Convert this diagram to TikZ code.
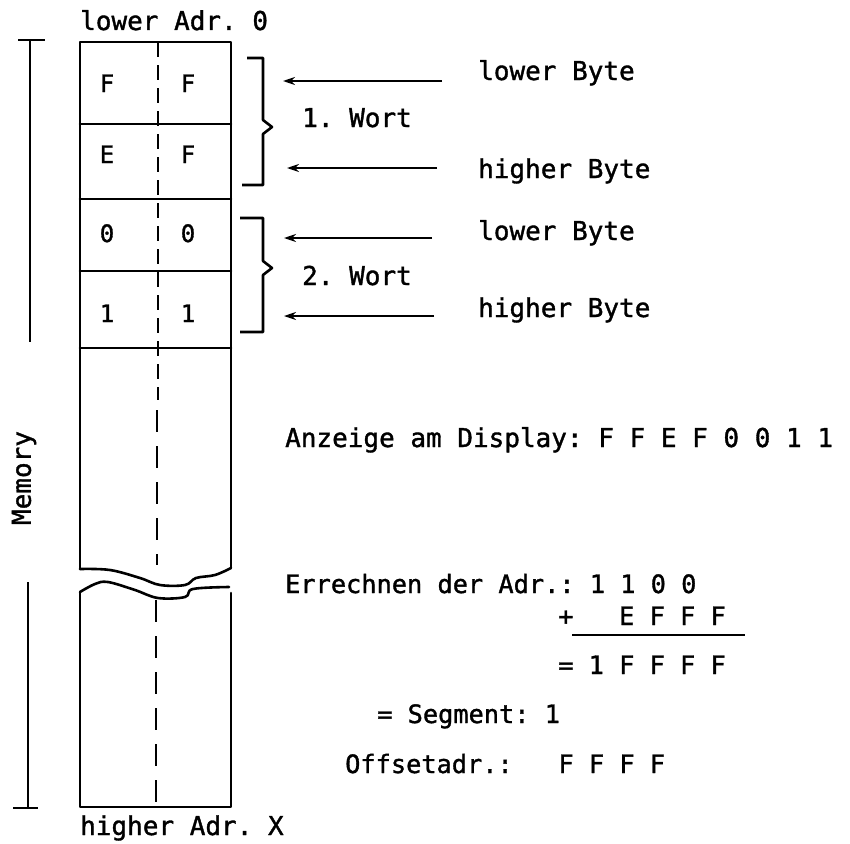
\documentclass[tikz,border=0pt]{standalone}
\usepackage{fontspec}
\newfontfamily\mono[FakeBold=1.3]{DejaVu Sans Mono}
\usetikzlibrary{arrows.meta}
\frenchspacing
\tikzset{
  lbl/.style={inner sep=0pt, anchor=base west, font=\mono\frenchspacing\fontsize{26}{28}\selectfont},
  calc/.style={inner sep=0pt, anchor=base west, font=\mono\frenchspacing\fontsize{25.3}{28}\selectfont},
  cell/.style={inner sep=0pt, anchor=base, font=\mono\fontsize{24}{26}\selectfont},
  boxline/.style={line width=2.6pt, line cap=round, line join=round},
  midline/.style={line width=2.6pt, dash pattern=on 15pt off 8pt},
  midline2/.style={line width=2.6pt, dash pattern=on 22pt off 14pt},
  arr/.style={line width=1.6pt, -{Stealth[length=12pt,width=8pt]}},
  brk/.style={line width=2.6pt, line join=round},
  bar/.style={line width=2.6pt}
}
\begin{document}
\begin{tikzpicture}[x=1pt,y=-1pt]
\useasboundingbox (0,0) rectangle (850,843);
% labels top/bottom
\node[lbl] (lowadr) at (80,30) {lower Adr. 0};
\node[lbl] (highadr) at (80,835) {higher Adr. X};
% memory bars
\draw[bar] (18,40) -- (45,40);
\draw[bar] (30,40) -- (30,342);
\draw[bar] (28,582) -- (28,808);
\draw[bar] (13,808) -- (38,808);
\node[inner sep=0pt, rotate=90, font=\mono\fontsize{26}{28}\selectfont] (mem) at (24,478) {Memory};
% upper box
\draw[boxline] (80,569) -- (80,42) -- (231,42) -- (231,568);
\draw[boxline] (80,124) -- (231,124);
\draw[boxline] (80,199) -- (231,199);
\draw[boxline] (80,271) -- (231,271);
\draw[boxline] (80,348) -- (231,348);
% break lines
\draw[boxline] plot[smooth, tension=0.6] coordinates {(80,569) (110,570) (140,578) (160,585) (185,585) (196,578) (215,575) (231,568)};
\draw[boxline] plot[smooth, tension=0.6] coordinates {(80,592) (95,584) (108,582) (135,590) (158,598) (185,597) (193,589) (229,587)};
% lower box
\draw[boxline] (80,592) -- (80,807) -- (231,807) -- (231,593);
% middle dashed line
\draw[midline] (158,42) -- (158,400);
\draw[midline2] (157,410) -- (157,565);
\draw[midline2] (156,600) -- (156,807);
% cells
\node[cell] (c1a) at (107,92) {F};
\node[cell] (c1b) at (188,92) {F};
\node[cell] (c2a) at (107,163) {E};
\node[cell] (c2b) at (188,163) {F};
\node[cell] (c3a) at (107,242) {0};
\node[cell] (c3b) at (188,242) {0};
\node[cell] (c4a) at (107,322) {1};
\node[cell] (c4b) at (188,322) {1};
% brackets
\draw[brk] (247,58) -- (263,58) -- (263,120) -- (272,127) -- (263,134) -- (263,185) -- (242,185);
\draw[brk] (240,218) -- (263,218) -- (263,261) -- (272,268) -- (263,275) -- (263,332) -- (240,332);
\node[lbl] (w1) at (302,127) {1. Wort};
\node[lbl] (w2) at (302,285) {2. Wort};
% arrows
\coordinate (a1s) at (442,81); \coordinate (a1e) at (283,81);
\coordinate (a2s) at (437,168); \coordinate (a2e) at (287,168);
\coordinate (a3s) at (432,238); \coordinate (a3e) at (284,238);
\coordinate (a4s) at (434,316); \coordinate (a4e) at (284,316);
\draw[arr] (a1s) -- (a1e);
\draw[arr] (a2s) -- (a2e);
\draw[arr] (a3s) -- (a3e);
\draw[arr] (a4s) -- (a4e);
\node[lbl] (lb1) at (478,80) {lower Byte};
\node[lbl] (hb1) at (478,178) {higher Byte};
\node[lbl] (lb2) at (478,240) {lower Byte};
\node[lbl] (hb2) at (478,317) {higher Byte};
% display
\node[lbl] (disp) at (285,447) {Anzeige am Display: F F E F 0 0 1 1};
% calculation
\node[calc] (er) at (285,593) {Errechnen der Adr.: 1 1 0 0};
\node[calc] (pl) at (558,625) {+~~~E F F F};
\coordinate (ls) at (572,635); \coordinate (le) at (745,635);
\draw[line width=1.4pt] (ls) -- (le);
\node[calc] (res) at (558,674) {= 1 F F F F};
\node[calc] (seg) at (377,723) {= Segment: 1};
\node[calc] (off) at (345,773) {Offsetadr.:~~~F F F F};
\end{tikzpicture}
\end{document}
